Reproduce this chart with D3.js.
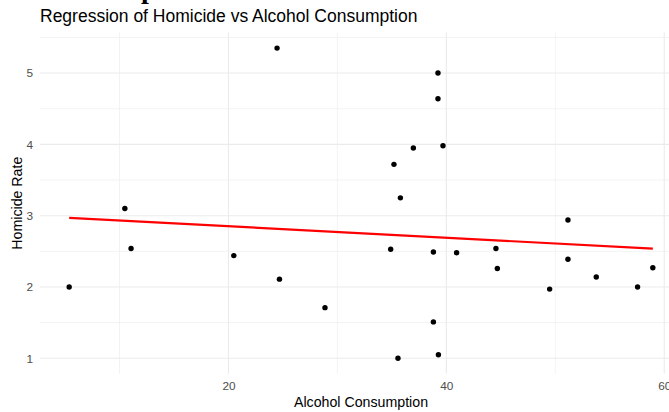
<!DOCTYPE html>
<html>
<head>
<meta charset="utf-8">
<script src="https://cdn.jsdelivr.net/npm/d3@7"></script>
<style>
  html, body { margin: 0; padding: 0; background: #fff; }
  svg { display: block; }
  text { font-family: "Liberation Sans", Arial, sans-serif; }
</style>
</head>
<body>
<svg id="chart" width="669" height="412"></svg>
<script>
// Alcohol consumption per country vs homicide rate
const alcohol = [5.38, 10.49, 11.06, 20.49, 24.68, 28.86, 24.46, 39.23, 39.23, 36.97,
                 39.69, 35.19, 35.78, 34.89, 38.81, 40.94, 44.55, 44.68, 49.48, 51.16,
                 51.16, 53.76, 57.55, 58.95, 38.81, 35.56, 39.27];
const homicide = [2.00, 3.10, 2.54, 2.44, 2.11, 1.71, 5.35, 5.00, 4.64, 3.95,
                  3.98, 3.72, 3.25, 2.53, 2.49, 2.48, 2.54, 2.26, 1.97, 2.94,
                  2.39, 2.14, 2.00, 2.27, 1.51, 1.00, 1.05];
const xTicks = [20, 40, 60];
const xMinor = [10, 30, 50];
const yTicks = [1, 2, 3, 4, 5];
const yMinor = [1.5, 2.5, 3.5, 4.5, 5.5];

const points = alcohol.map((x, i) => ({ x, y: homicide[i] }));

// panel area (the plot is wider than the viewport and is cropped on the right)
const panel = { left: 40, right: 682, top: 32.6, bottom: 373.8 };

function expand(ext, f) {
  const d = (ext[1] - ext[0]) * f;
  return [ext[0] - d, ext[1] + d];
}

const x = d3.scaleLinear()
  .domain(expand(d3.extent(alcohol), 0.05))
  .range([panel.left, panel.right]);
const y = d3.scaleLinear()
  .domain(expand(d3.extent(homicide), 0.05))
  .range([panel.bottom, panel.top]);

const svg = d3.select("#chart");

// fragment of a heading set above this chart
svg.append("text")
  .attr("x", 141).attr("y", -2)
  .style("font-family", "'Liberation Serif', serif")
  .style("font-weight", "bold")
  .style("font-size", "28px")
  .attr("fill", "#000")
  .text("p");

// grid
const grid = svg.append("g");
grid.selectAll(".ymin").data(yMinor.filter(v => v > y.domain()[0] && v < y.domain()[1]))
  .enter().append("line")
  .attr("x1", panel.left).attr("x2", panel.right)
  .attr("y1", d => y(d)).attr("y2", d => y(d))
  .attr("stroke", "#EBEBEB").attr("stroke-width", 0.6);
grid.selectAll(".xmin").data(xMinor)
  .enter().append("line")
  .attr("y1", panel.top).attr("y2", panel.bottom)
  .attr("x1", d => x(d)).attr("x2", d => x(d))
  .attr("stroke", "#EBEBEB").attr("stroke-width", 0.6);
grid.selectAll(".ymaj").data(yTicks)
  .enter().append("line")
  .attr("x1", panel.left).attr("x2", panel.right)
  .attr("y1", d => y(d)).attr("y2", d => y(d))
  .attr("stroke", "#EBEBEB").attr("stroke-width", 1.1);
grid.selectAll(".xmaj").data(xTicks)
  .enter().append("line")
  .attr("y1", panel.top).attr("y2", panel.bottom)
  .attr("x1", d => x(d)).attr("x2", d => x(d))
  .attr("stroke", "#EBEBEB").attr("stroke-width", 1.1);

// axes (labels only, as in a minimal theme)
const xAxis = svg.append("g")
  .attr("transform", `translate(0,${panel.bottom})`)
  .call(d3.axisBottom(x).tickValues(xTicks).tickFormat(d3.format("d")).tickSize(0).tickPadding(7.5));
const yAxis = svg.append("g")
  .attr("transform", `translate(${panel.left},0)`)
  .call(d3.axisLeft(y).tickValues(yTicks).tickFormat(d3.format("d")).tickSize(0).tickPadding(7));
[xAxis, yAxis].forEach(a => {
  a.select(".domain").remove();
  a.selectAll("text")
    .style("font-family", "'Liberation Sans', Arial, sans-serif")
    .style("font-size", "11.8px")
    .attr("fill", "#4D4D4D");
});

// points
svg.append("g").selectAll("circle").data(points)
  .enter().append("circle")
  .attr("cx", d => x(d.x)).attr("cy", d => y(d.y))
  .attr("r", 2.7).attr("fill", "#000");

// least-squares fit
const mx = d3.mean(alcohol), my = d3.mean(homicide);
const slope = d3.sum(points, d => (d.x - mx) * (d.y - my)) / d3.sum(points, d => (d.x - mx) ** 2);
const intercept = my - slope * mx;
const xr = d3.extent(alcohol);
const fit = xr.map(v => ({ x: v, y: intercept + slope * v }));
svg.append("path")
  .datum(fit)
  .attr("d", d3.line().x(d => x(d.x)).y(d => y(d.y)))
  .attr("fill", "none")
  .attr("stroke", "#FF0000")
  .attr("stroke-width", 2.2);

// titles
svg.append("text")
  .attr("x", 40).attr("y", 22.3)
  .style("font-size", "17.5px")
  .attr("fill", "#000")
  .text("Regression of Homicide vs Alcohol Consumption");
svg.append("text")
  .attr("x", (panel.left + panel.right) / 2).attr("y", 407.3)
  .attr("text-anchor", "middle")
  .style("font-size", "14.2px")
  .attr("fill", "#000")
  .text("Alcohol Consumption");
svg.append("text")
  .attr("transform", `translate(21.5,${(panel.top + panel.bottom) / 2}) rotate(-90)`)
  .attr("text-anchor", "middle")
  .style("font-size", "14.2px")
  .attr("fill", "#000")
  .text("Homicide Rate");
</script>
</body>
</html>
